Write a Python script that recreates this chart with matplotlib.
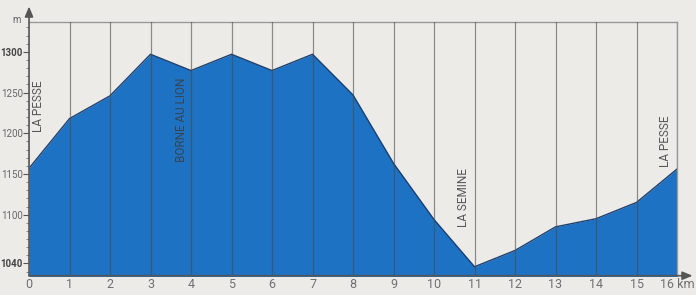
import matplotlib
matplotlib.use('Agg')
import matplotlib.pyplot as plt
from matplotlib.ticker import MultipleLocator

# Elevation profile (km -> m)
km = [0, 1, 2, 3, 4, 5, 6, 7, 8, 9, 10, 11, 12, 13, 14, 15, 16]
alt = [1157, 1218, 1246, 1297, 1277, 1297, 1277, 1297, 1247, 1163,
       1094, 1036, 1056, 1085, 1095, 1115, 1156]
ytick_vals = [1040, 1100, 1150, 1200, 1250, 1300]
xtick_labels = [str(k) for k in km[:-1]] + ['16 km']

# place names: (km, altitude, label)
places = [(0.23, 1233, 'LA PESSE'),
          (3.77, 1217, 'BORNE AU LION'),
          (10.72, 1121, 'LA SEMINE'),
          (15.72, 1190, 'LA PESSE')]

BG = '#ecebe8'
BLUE = '#1e72c4'
FONT = ['Roboto', 'DejaVu Sans']

fig = plt.figure(figsize=(6.96, 2.95), dpi=100, facecolor=BG)
ax = fig.add_axes([0.0417, 0.0654, 0.9310, 0.861])
ax.set_facecolor(BG)

ax.fill_between(km, 1000, alt, color=BLUE, lw=0, zorder=1)
ax.plot(km, alt, color='#1d3f6e', lw=1.0, zorder=2)
for k in km[1:]:
    ax.axvline(k, color='#4a4a4a', lw=0.9, alpha=0.6, zorder=3)

ax.set_xlim(0, 16)
ax.set_ylim(1025, 1337)

ax.set_xticks(km)
ax.set_xticklabels(xtick_labels, family=FONT, fontsize=9, color='#707070')
ax.set_yticks(ytick_vals)
ax.set_yticklabels([str(v) for v in ytick_vals], family=FONT, fontsize=7,
                   color='#666666')
for lbl in ax.get_yticklabels():
    if lbl.get_text() in ('1300', '1040'):
        lbl.set_fontweight('bold')
        lbl.set_color('#444444')
ax.yaxis.set_minor_locator(MultipleLocator(10))
ax.tick_params(axis='x', length=0, pad=2)
ax.tick_params(axis='y', which='major', length=4, width=0.8,
               color='#555555', pad=0.5)
ax.tick_params(axis='y', which='minor', length=2, width=0.6,
               color='#777777')

for side in ('top', 'right'):
    ax.spines[side].set_color('#9a9a9a')
    ax.spines[side].set_linewidth(1.0)
ax.spines['left'].set_visible(False)
ax.spines['bottom'].set_visible(False)

# axis lines with arrows
arrow = dict(arrowstyle='-|>,head_length=0.6,head_width=0.25',
             color='#555555', lw=1.2, shrinkA=0, shrinkB=0)
ax.annotate('', xy=(0, 1.06), xytext=(0, 0), xycoords='axes fraction',
            textcoords='axes fraction', arrowprops=arrow,
            annotation_clip=False, zorder=5)
ax.annotate('', xy=(1.024, 0), xytext=(0, 0), xycoords='axes fraction',
            textcoords='axes fraction', arrowprops=arrow,
            annotation_clip=False, zorder=5)
ax.text(-0.012, 1.005, 'm', transform=ax.transAxes, ha='right', va='center',
        family=FONT, fontsize=7, color='#666666')

for x, y, name in places:
    ax.text(x, y, name, rotation=90, ha='center', va='center',
            family=FONT, fontsize=8.5, color='#3c3c3c', alpha=0.85, zorder=4)

fig.savefig('out.png', dpi=100, facecolor=BG)
